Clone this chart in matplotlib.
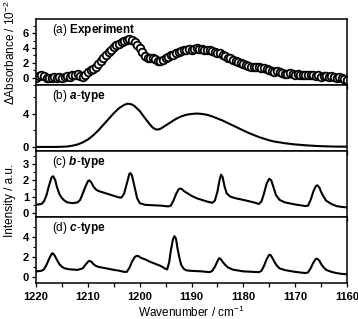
import numpy as np
import matplotlib
matplotlib.use("Agg")
from matplotlib import pyplot as plt
from matplotlib.ticker import MultipleLocator

plt.rcParams['font.family'] = ['Liberation Sans', 'DejaVu Sans']
plt.rcParams['mathtext.fontset'] = 'custom'
plt.rcParams['mathtext.rm'] = 'Liberation Sans'
plt.rcParams['mathtext.it'] = 'Liberation Sans:italic'
plt.rcParams['mathtext.bf'] = 'Liberation Sans:bold'
plt.rcParams['mathtext.bfit'] = 'Liberation Sans:bold:italic'

# (a) experiment, sampled every 0.5 cm-1 from 1220 down to 1160
exp_start, exp_step = 1220.0, -0.5
exp_val = [0.0, 0.2, 0.3, 0.2, 0.0, -0.1, 0.0, 0.1, 0.0, 0.1,
           0.0, 0.1, 0.2, 0.1, 0.3, 0.4, 0.5, 0.2, 0.1, 0.4,
           0.8, 1.0, 1.2, 1.5, 1.9, 2.3, 2.6, 3.0, 3.4, 3.8,
           4.1, 4.4, 4.6, 4.8, 5.0, 5.1, 5.2, 5.1, 4.8, 4.4,
           4.0, 3.4, 2.9, 2.7, 2.6, 2.6, 2.5, 2.3, 2.2, 2.4,
           2.7, 2.8, 3.0, 3.1, 3.3, 3.5, 3.6, 3.7, 3.8, 3.9,
           3.8, 3.9, 4.0, 3.9, 3.9, 3.8, 3.7, 3.7, 3.6, 3.5,
           3.3, 3.3, 3.1, 2.9, 2.7, 2.6, 2.4, 2.2, 2.1, 2.0,
           1.8, 1.7, 1.6, 1.5, 1.5, 1.5, 1.4, 1.3, 1.3, 1.2,
           1.1, 0.9, 0.8, 0.9, 0.8, 0.6, 0.5, 0.5, 0.6, 0.5,
           0.4, 0.5, 0.4, 0.4, 0.3, 0.3, 0.4, 0.3, 0.2, 0.3,
           0.1, 0.2, 0.2, 0.1, 0.2, 0.1, 0.0, 0.1, 0.0, -0.2,
           -0.3]
exp_wn = exp_start + exp_step * np.arange(len(exp_val))

# (b) a-type
a_wn = [1220, 1216, 1214, 1213, 1212, 1211, 1210, 1209, 1208, 1207, 1206, 1205,
        1204, 1203, 1202.3, 1201.5, 1201, 1200, 1199, 1198, 1197.5, 1197, 1196.5,
        1196, 1195, 1194, 1193, 1192, 1191, 1190, 1189, 1188, 1187, 1186, 1185,
        1184, 1183, 1182, 1181, 1180, 1179, 1178, 1177, 1176, 1175, 1174, 1172,
        1170, 1168, 1166, 1164, 1162, 1160]
a_val = [0.0, 0.0, 0.05, 0.15, 0.3, 0.55, 0.9, 1.4, 2.0, 2.7, 3.4, 4.1,
         4.7, 5.1, 5.25, 5.15, 4.95, 4.35, 3.5, 2.7, 2.35, 2.15, 2.1,
         2.2, 2.6, 3.0, 3.4, 3.7, 3.9, 4.0, 4.05, 4.0, 3.9, 3.7, 3.45,
         3.2, 2.9, 2.6, 2.3, 2.0, 1.7, 1.45, 1.2, 1.0, 0.8, 0.65, 0.45,
         0.3, 0.2, 0.12, 0.07, 0.04, 0.03]

# (c) b-type
b_wn = [1220, 1219, 1218.5, 1218, 1217.5, 1217, 1216.7, 1216.3, 1216, 1215.5, 1215,
        1214.5, 1214, 1213, 1212, 1211.5, 1211, 1210.5, 1210, 1209.7, 1209.3, 1209,
        1208.5, 1208, 1207, 1206, 1205, 1204, 1203.5, 1203, 1202.5, 1202, 1201.8,
        1201.5, 1201, 1200.5, 1200, 1199, 1198, 1196, 1194.5, 1194, 1193.5, 1193,
        1192.5, 1192.2, 1191.8, 1191.5, 1191, 1190, 1189, 1188, 1187, 1186, 1185.5,
        1185, 1184.6, 1184.3, 1184, 1183.6, 1183.2, 1182.5, 1181.5, 1180, 1178, 1177,
        1176.5, 1176, 1175.5, 1175, 1174.6, 1174.2, 1173.7, 1173, 1172, 1170, 1168,
        1167.5, 1167, 1166.5, 1166, 1165.7, 1165.3, 1165, 1164.5, 1164, 1163, 1162,
        1161, 1160]
b_val = [0.5, 0.55, 0.7, 1.1, 1.7, 2.2, 2.25, 2.0, 1.6, 1.15, 0.9,
         0.75, 0.65, 0.6, 0.65, 0.8, 1.2, 1.6, 1.95, 2.0, 1.85, 1.65,
         1.45, 1.35, 1.25, 1.15, 1.05, 0.95, 0.95, 1.2, 1.8, 2.4, 2.45,
         2.3, 1.6, 0.9, 0.6, 0.5, 0.48, 0.45, 0.4, 0.45, 0.75, 1.15,
         1.45, 1.5, 1.45, 1.35, 1.25, 1.05, 0.9, 0.8, 0.7, 0.62, 0.75,
         1.3, 2.0, 2.35, 2.2, 1.6, 1.2, 1.0, 0.9, 0.8, 0.65, 0.55,
         0.7, 1.2, 1.8, 2.1, 2.0, 1.6, 1.1, 0.8, 0.65, 0.52, 0.42,
         0.45, 0.8, 1.3, 1.65, 1.7, 1.55, 1.3, 1.0, 0.75, 0.55, 0.42,
         0.37, 0.34]

# (d) c-type
c_wn = [1220, 1219, 1218.5, 1218, 1217.5, 1217, 1216.8, 1216.4, 1216, 1215.5, 1215,
        1214.5, 1213.5, 1212, 1211, 1210.5, 1210, 1209.7, 1209.3, 1209, 1208.5, 1208,
        1207, 1206, 1205, 1204, 1203, 1202.5, 1202, 1201.5, 1201, 1200.6, 1200.2,
        1199.8, 1199, 1198, 1197, 1196, 1195.5, 1195, 1194.7, 1194.3, 1194, 1193.6,
        1193.3, 1193, 1192.7, 1192.3, 1192, 1191.5, 1191, 1190, 1188, 1186.5, 1186,
        1185.5, 1185, 1184.7, 1184.4, 1184, 1183.5, 1183, 1182, 1180, 1177, 1176.5,
        1176, 1175.5, 1175, 1174.7, 1174.3, 1174, 1173.5, 1173, 1172, 1170, 1168,
        1167.5, 1167, 1166.5, 1166, 1165.7, 1165.3, 1165, 1164.5, 1164, 1163, 1162,
        1161, 1160]
c_val = [0.55, 0.6, 0.75, 1.2, 1.8, 2.3, 2.35, 2.1, 1.7, 1.25, 1.0,
         0.85, 0.75, 0.7, 0.85, 1.2, 1.5, 1.6, 1.5, 1.3, 1.1, 1.0,
         0.9, 0.8, 0.7, 0.62, 0.5, 0.5, 0.9, 1.5, 1.95, 2.1, 2.05,
         1.9, 1.75, 1.5, 1.3, 1.1, 0.95, 0.8, 0.75, 1.5, 2.6, 3.7,
         4.05, 3.8, 2.8, 1.8, 1.2, 0.8, 0.65, 0.6, 0.55, 0.47, 0.6,
         1.0, 1.55, 1.85, 1.8, 1.5, 1.2, 0.95, 0.72, 0.55, 0.47, 0.6,
         1.1, 1.75, 2.2, 2.15, 1.8, 1.5, 1.1, 0.85, 0.68, 0.5, 0.38,
         0.45, 0.85, 1.4, 1.8, 1.8, 1.6, 1.3, 0.95, 0.7, 0.5, 0.38,
         0.3, 0.27]

titles = [r"(a) $\mathbf{Experiment}$", r"(b) $\mathbfit{a}$$\mathbf{\text{-}type}$",
          r"(c) $\mathbfit{b}$$\mathbf{\text{-}type}$", r"(d) $\mathbfit{c}$$\mathbf{\text{-}type}$"]
ylims = [(-1.0, 7.9), (-0.5, 7.5), (-0.25, 3.8), (-0.6, 5.95)]
ymajor = [2, 4, 1, 2]
yminor = [1, 2, 0.5, 1]

fig = plt.figure(figsize=(3.58, 3.19), dpi=100)
gs = fig.add_gridspec(4, 1, left=0.101, right=0.969, top=0.940, bottom=0.113, hspace=0)
axes = [fig.add_subplot(gs[i]) for i in range(4)]

axes[0].plot(exp_wn, exp_val, 'o', ms=5.5, mfc='white', mec='black', mew=1.3)
axes[1].plot(a_wn, a_val, color='black', lw=1.5)
axes[2].plot(b_wn, b_val, color='black', lw=1.5)
axes[3].plot(c_wn, c_val, color='black', lw=1.5)

for i, ax in enumerate(axes):
    ax.set_xlim(1220, 1160)
    ax.set_ylim(*ylims[i])
    ax.xaxis.set_major_locator(MultipleLocator(10))
    ax.xaxis.set_minor_locator(MultipleLocator(5))
    ax.yaxis.set_major_locator(MultipleLocator(ymajor[i]))
    ax.yaxis.set_minor_locator(MultipleLocator(yminor[i]))
    ax.tick_params(axis='x', which='both', direction='out', length=3, width=0.9)
    ax.tick_params(axis='y', which='major', direction='out', length=3, width=0.9, pad=2)
    ax.tick_params(axis='y', which='minor', direction='out', length=2, width=0.8)
    ax.tick_params(labelsize=8)
    for lab in ax.get_yticklabels():
        lab.set_fontweight('bold')
    for s in ax.spines.values():
        s.set_linewidth(1.1)
    if i < 3:
        ax.tick_params(axis='x', labelbottom=False)
    ax.text(0.05, 0.83, titles[i], transform=ax.transAxes, fontsize=8.5, va='center', ha='left')

for lab in axes[3].get_xticklabels():
    lab.set_fontweight('bold')
axes[3].set_xlabel(r"Wavenumber / cm$^{-1}$", fontsize=8.5, labelpad=2)
fig.text(0.028, 0.834, r"$\Delta$Absorbance / 10$^{-2}$", rotation=90, fontsize=8.5,
         ha='center', va='center')
fig.text(0.028, 0.373, "Intensity / a.u.", rotation=90, fontsize=8.5, ha='center', va='center')

fig.savefig("out.png", dpi=100)
